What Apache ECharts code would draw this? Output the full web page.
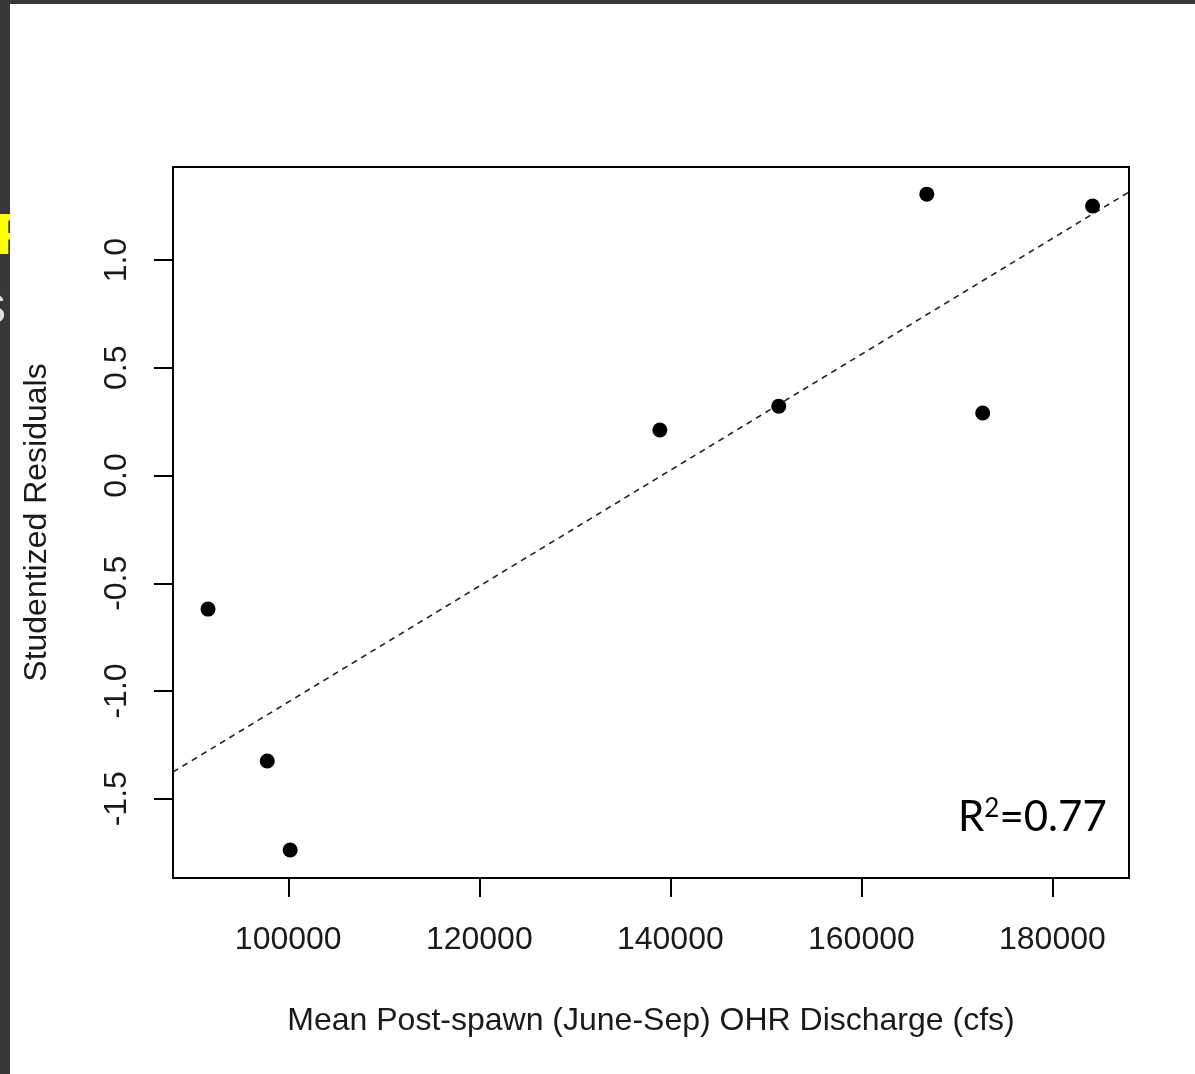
<!DOCTYPE html>
<html>
<head>
<meta charset="utf-8">
<script src="https://cdn.jsdelivr.net/npm/echarts@6/dist/echarts.min.js"></script>
<style>
html,body{margin:0;padding:0;background:#fff;}
#chart{width:1195px;height:1074px;}
</style>
</head>
<body>
<div id="chart"></div>
<script>
// ---- data ----
var discharge = [91600, 97800, 100200, 138900, 151350, 166850, 172700, 184200];
var residuals = [-0.62, -1.325, -1.738, 0.211, 0.322, 1.306, 0.290, 1.251];
var fitX = [87933, 188017];
var fitY = [-1.376, 1.316];
var xTicks = [100000, 120000, 140000, 160000, 180000];
var yTicks = [-1.5, -1.0, -0.5, 0.0, 0.5, 1.0];
var xTitle = 'Mean Post-spawn (June-Sep) OHR Discharge (cfs)';
var yTitle = 'Studentized Residuals';
var xRange = [87933, 188017];
var yRange = [-1.868, 1.432];

var pts = discharge.map(function (d, i) { return [d, residuals[i]]; });
var fit = fitX.map(function (d, i) { return [d, fitY[i]]; });

var font = '"Liberation Sans", Arial, sans-serif';
var chart = echarts.init(document.getElementById('chart'), null, {renderer: 'canvas'});
chart.setOption({
  animation: false,
  backgroundColor: '#ffffff',
  grid: {left: 173, top: 167, width: 956, height: 711, show: true,
         borderColor: '#000', borderWidth: 2, backgroundColor: 'transparent'},
  xAxis: {
    type: 'value', min: xRange[0], max: xRange[1],
    name: xTitle, nameLocation: 'middle', nameGap: 127,
    nameTextStyle: {fontFamily: font, fontSize: 32, color: '#1a1a1a'},
    axisLine: {show: false, onZero: false},
    splitLine: {show: false},
    axisTick: {show: true, length: 19, customValues: xTicks, lineStyle: {color: '#000', width: 2}},
    axisLabel: {customValues: xTicks, margin: 46, fontFamily: font, fontSize: 32, color: '#1a1a1a',
                formatter: function (v) { return String(v); }}
  },
  yAxis: {
    type: 'value', min: yRange[0], max: yRange[1],
    name: yTitle, nameLocation: 'middle', nameGap: 120, nameRotate: 90,
    nameTextStyle: {fontFamily: font, fontSize: 32, color: '#1a1a1a'},
    axisLine: {show: false, onZero: false},
    splitLine: {show: false},
    axisTick: {show: true, length: 19, customValues: yTicks, lineStyle: {color: '#000', width: 2}},
    axisLabel: {customValues: yTicks, margin: 40, rotate: 90, fontFamily: font, fontSize: 32, color: '#1a1a1a',
                formatter: function (v) { return Number(v).toFixed(1); }}
  },
  series: [
    {type: 'line', data: fit, showSymbol: false, symbol: 'none', silent: true,
     lineStyle: {color: '#222', width: 1.6, type: [6, 5]}, z: 2},
    {type: 'scatter', data: pts, symbol: 'circle', symbolSize: 15,
     itemStyle: {color: '#000', opacity: 1}, z: 3}
  ],
  graphic: [
    {type: 'text', z: 1, left: -4, top: 209,
     style: {text: 'F', fill: '#ffff00', font: 'bold 58px "Liberation Sans", Arial, sans-serif'}},
    {type: 'text', z: 1, left: -22, top: 290,
     style: {text: 'S', fill: '#e0e0e0', font: '42px "Liberation Sans", Arial, sans-serif'}},
    {type: 'rect', z: 1, shape: {x: 10, y: 190, width: 60, height: 160}, style: {fill: '#ffffff'}},
    {type: 'rect', z: 0, shape: {x: 0, y: 0, width: 10, height: 1074}, style: {fill: '#393735'}},
    {type: 'rect', z: 0, shape: {x: 0, y: 0, width: 1195, height: 4}, style: {fill: '#393735'}},
    {type: 'text', z: 5, left: 958, top: 796,
     style: {rich: {n: {fontFamily: 'Lato, "Open Sans", sans-serif', fontSize: 42, fill: '#000'},
                    s: {fontFamily: 'Lato, "Open Sans", sans-serif', fontSize: 26, fill: '#000', verticalAlign: 'top', padding: [0,0,14,0]}},
             text: '{n|R}{s|2}{n|=0.77}'}}
  ]
});
</script>
</body>
</html>
